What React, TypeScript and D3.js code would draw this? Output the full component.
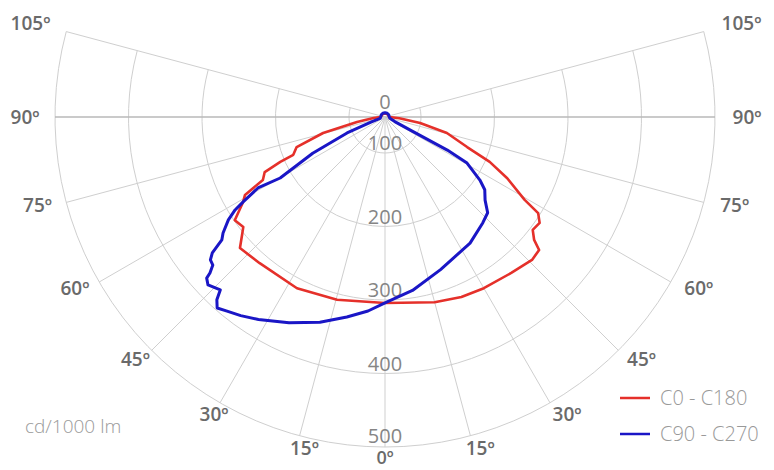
import React from "react";
import * as d3 from "d3";

// Photometric polar diagram (cd/1000 lm), angles measured from nadir, positive to the right
const WIDTH = 774;
const HEIGHT = 470;

const ringValues = [100, 200, 300, 400, 500];
const rayAngles = [-105, -90, -75, -60, -45, -30, -15, 0, 15, 30, 45, 60, 75, 90, 105];
const angleLabels = [105, 90, 75, 60, 45, 30, 15, 0];

const seriesNames = ["C0 - C180", "C90 - C270"];
const seriesColors = ["#e5302a", "#1a16c6"];

// [angle in degrees, intensity in cd/1000 lm], in drawing order
const c0c180: [number, number][] = [
  [0, 304], [15, 312], [23, 317], [30, 320], [39, 324], [45.8, 330], [49.2, 328],
  [50.5, 314], [52.6, 304], [55.6, 306], [57.9, 297], [59.3, 272], [63.4, 237],
  [66.8, 206], [69.9, 170], [75.5, 138], [80.3, 99], [85, 40], [90, 12],
  [120, 10], [150, 10], [180, 10], [-150, 10], [-120, 10], [-90, 12],
  [-85, 32], [-79.9, 79], [-75.5, 138], [-71.2, 178], [-67.6, 186], [-66.8, 206],
  [-65.4, 231], [-62.7, 238], [-60.9, 269], [-59.1, 276], [-55.5, 299], [-52.2, 295],
  [-50.5, 303], [-47.9, 317], [-40.6, 313], [-27.2, 313], [-14.7, 308], [0, 304],
];

const c90c270: [number, number][] = [
  [0, 304], [9, 290], [20, 272], [34, 258], [42.8, 247], [47, 242], [50.3, 228],
  [53.9, 219], [56.4, 206], [60.7, 179], [62, 147], [62.5, 88], [65, 30], [75, 14],
  [90, 12], [120, 12], [150, 12], [180, 12], [-150, 12], [-120, 12], [-90, 12],
  [-75, 14], [-70, 40], [-67.2, 107], [-63.4, 161], [-59.8, 216], [-60.8, 249],
  [-59.1, 276], [-58.2, 291], [-56.7, 306], [-54.4, 322], [-53, 329], [-51.8, 350],
  [-50.7, 358], [-49.3, 360], [-48.3, 370], [-47.9, 378], [-46.5, 383], [-43.6, 376],
  [-42.6, 389], [-41.3, 397], [-39.3, 392], [-36, 385], [-32, 376], [-25, 360],
  [-17.6, 344], [-10.8, 328], [-5, 316], [0, 304],
];

const seriesData = [c0c180, c90c270];

const cx = 385;
const cy = 117;
const outerR = 330;

const rScale = d3.scaleLinear().domain([0, 100, 500]).range([0, 36, outerR]);

const rad = (deg: number) => (deg * Math.PI) / 180;
// screen position of (angle from nadir, radius)
const polar = (deg: number, r: number): [number, number] => [
  cx + r * Math.sin(rad(deg)),
  cy + r * Math.cos(rad(deg)),
];

const FONT = "'Open Sans', 'Noto Sans', sans-serif";

export default function App() {
  const ringPath = (r: number) => {
    const p = d3.path();
    const a0 = Math.PI / 2 - rad(105);
    const a1 = Math.PI / 2 + rad(105);
    p.moveTo(cx + r * Math.cos(a0), cy + r * Math.sin(a0));
    p.arc(cx, cy, r, a0, a1, false);
    return p.toString();
  };

  const line = d3
    .lineRadial<[number, number]>()
    .angle((d) => Math.PI - rad(d[0]))
    .radius((d) => rScale(d[1]))
    .curve(d3.curveLinear);

  // angle label placement around the outer ring
  const labelPos = (a: number, s: number): [number, number] => {
    const c = Math.cos(rad(a));
    const rx = c < -0.1 ? 367 : 360;
    const ry = c < 0 ? 360 : 343;
    const shift = s < 0 ? 14 * Math.pow(Math.max(0, c), 3) : 2;
    return [cx + s * rx * Math.sin(rad(a)) + shift, cy + ry * c];
  };

  return (
    <svg
      width={WIDTH}
      height={HEIGHT}
      style={{ position: "absolute", left: 0, top: 0, background: "#fff" }}
      fontFamily={FONT}
    >
      {/* grid rings */}
      {ringValues.map((v) => (
        <path key={v} d={ringPath(rScale(v))} fill="none" stroke="#cfcfcf" strokeWidth={1} />
      ))}
      {/* rays */}
      {rayAngles.map((a) => {
        const [x, y] = polar(a, outerR);
        const horiz = Math.abs(a) === 90;
        return (
          <line
            key={a}
            x1={cx}
            y1={cy}
            x2={x}
            y2={y}
            stroke={horiz ? "#b8b8b8" : "#cfcfcf"}
            strokeWidth={horiz ? 1.6 : 1}
          />
        );
      })}

      {/* intensity labels */}
      <text x={cx} y={cy - 8} textAnchor="middle" fontSize={20} fill="#858585">
        0
      </text>
      {ringValues.map((v) => (
        <text
          key={v}
          x={cx}
          y={cy + rScale(v) - (v === 500 ? 4 : 3)}
          textAnchor="middle"
          fontSize={20}
          fill="#858585"
        >
          {v}
        </text>
      ))}

      {/* angle labels */}
      {angleLabels.flatMap((a) => {
        const sides = a === 0 ? [1] : [-1, 1];
        return sides.map((s) => {
          const [x, y] = labelPos(a, a === 0 ? 0 : s);
          const nadir = a === 0;
          return (
            <text
              key={`${a}-${s}`}
              x={nadir ? cx : x}
              y={nadir ? y + 4 : y}
              dy={nadir ? 0 : "0.35em"}
              textAnchor="middle"
              fontSize={nadir ? 18 : 19}
              fontWeight={600}
              fill="#6a6a6a"
            >
              {`${a}º`}
            </text>
          );
        });
      })}

      {/* curves */}
      {seriesData.map((d, i) => (
        <path
          key={seriesNames[i]}
          d={line(d) || ""}
          transform={`translate(${cx},${cy})`}
          fill="none"
          stroke={seriesColors[i]}
          strokeWidth={i === 0 ? 2.6 : 3}
          strokeLinejoin="round"
        />
      ))}

      {/* unit */}
      <text x={25} y={426} dy="0.35em" fontSize={19} fontWeight={300} fill="#9a9a9a">
        cd/1000 lm
      </text>

      {/* legend */}
      {seriesNames.map((name, i) => {
        const y = 398 + i * 36;
        return (
          <g key={name}>
            <line x1={620} x2={650} y1={y} y2={y} stroke={seriesColors[i]} strokeWidth={2.5} />
            <text x={660} y={y} dy="0.35em" fontSize={20} fontWeight={300} fill="#999">
              {name}
            </text>
          </g>
        );
      })}
    </svg>
  );
}
